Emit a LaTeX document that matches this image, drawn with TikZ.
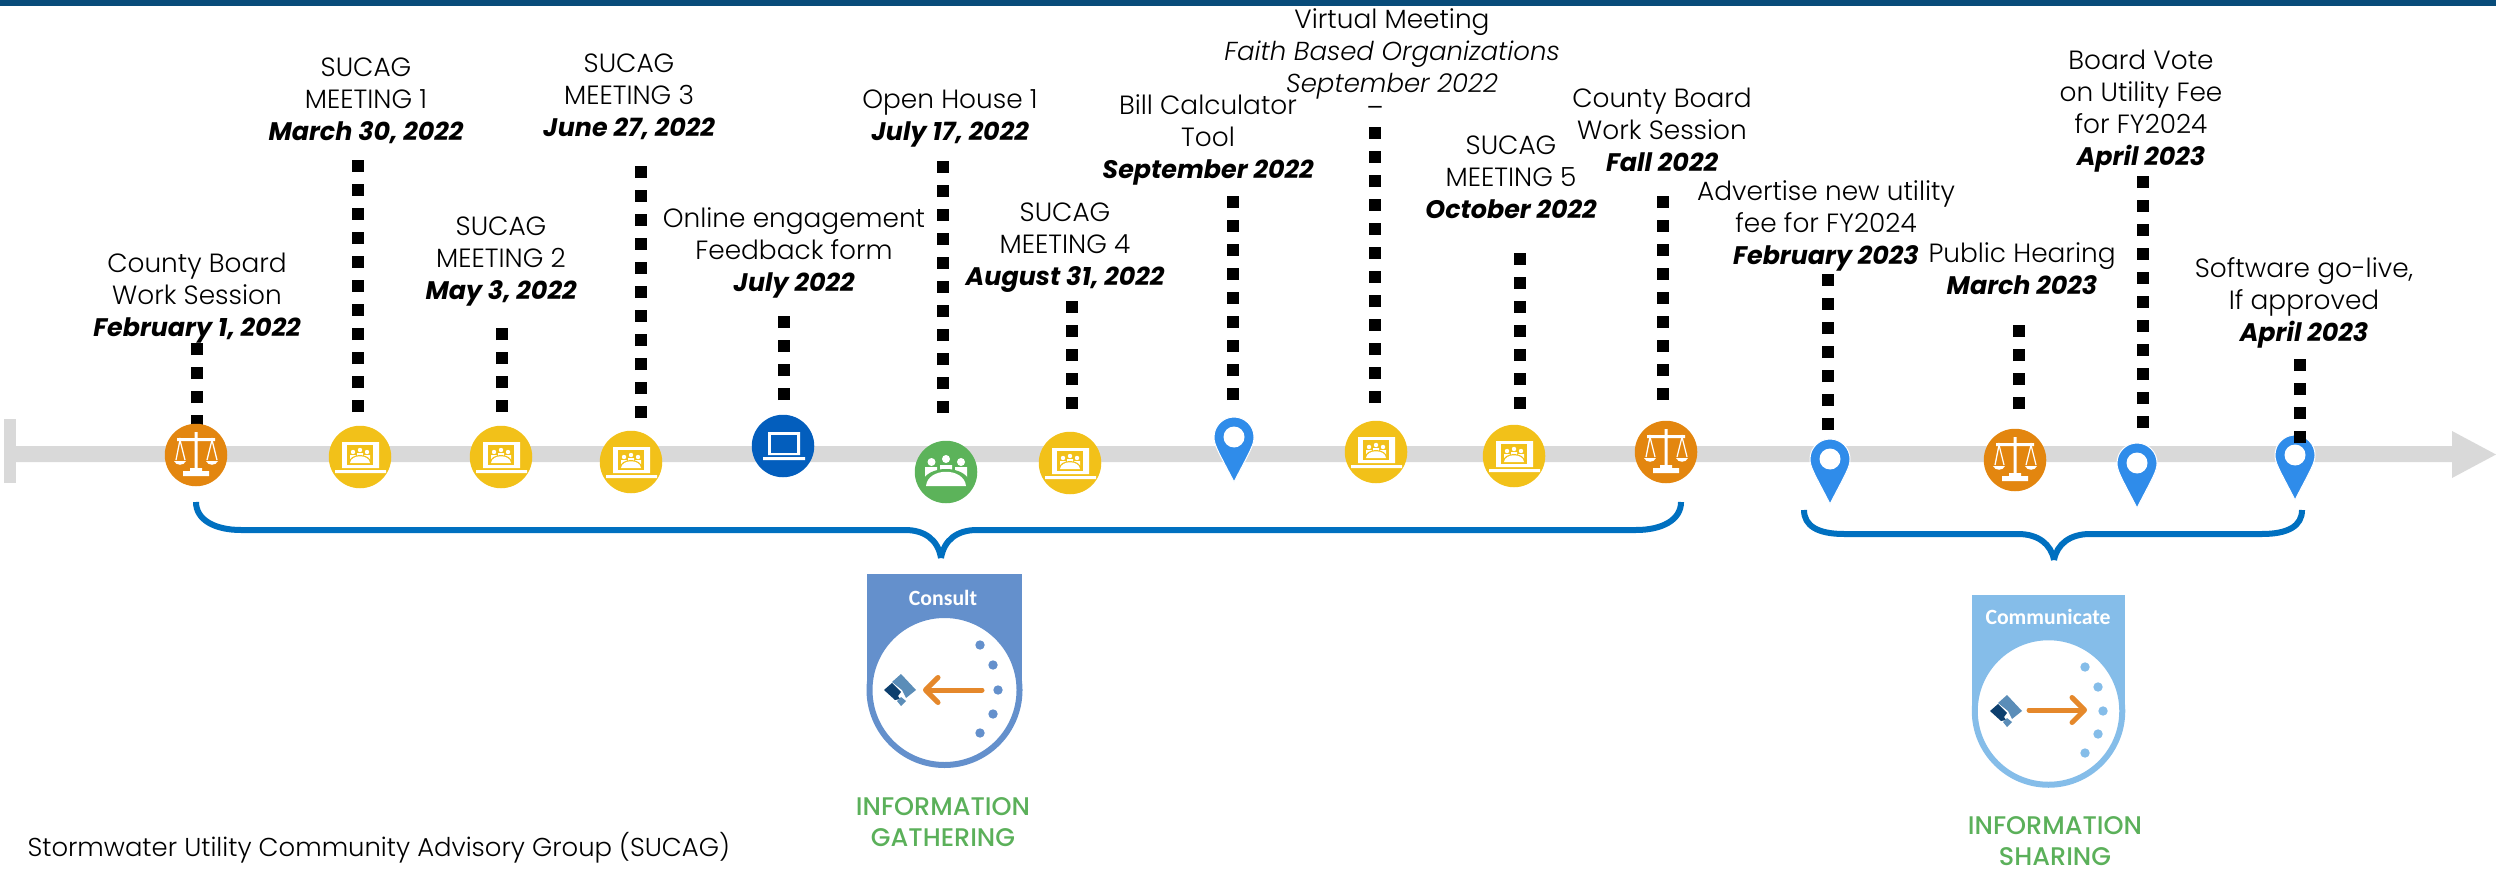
\documentclass[tikz,border=0pt]{standalone}
\usepackage{fontspec}
\setmainfont{Poppins}[UprightFont=* Light,ItalicFont=* Light Italic,BoldItalicFont=* Bold Italic,BoldFont=* Bold]
\newfontfamily\badgefont{Carlito}
\newfontfamily\phasefont{Poppins}[UprightFont=* Medium]
\usetikzlibrary{arrows.meta}
\definecolor{barcol}{HTML}{D9D9D9}
\definecolor{navycol}{HTML}{084C7A}
\definecolor{boardcol}{HTML}{E3860F}
\definecolor{meetcol}{HTML}{F2C119}
\definecolor{onlinecol}{HTML}{035EBD}
\definecolor{housecol}{HTML}{5CB35A}
\definecolor{pincol}{HTML}{2F8CEA}
\definecolor{bracecol}{HTML}{0070C0}
\definecolor{consultcol}{HTML}{6490CC}
\definecolor{sharecol}{HTML}{85BDE9}
\definecolor{phasecol}{HTML}{5BB05A}
\definecolor{arrowcol}{HTML}{E5882B}
\definecolor{logolight}{HTML}{5B8DB8}
\definecolor{logodark}{HTML}{0D3F6E}
\tikzstyle{event} = [align=center, inner sep=0pt, yshift=-1.2pt, font=\fontsize{10.55}{12.8}\selectfont]
\tikzstyle{iconball} = [circle, inner sep=0pt, outer sep=0pt, minimum size=25pt]
\tikzstyle{stem} = [draw, line width=4.8pt, dash pattern=on 4.8pt off 4.8pt]
\tikzstyle{brace} = [draw=bracecol, line width=2.4pt]
\tikzstyle{disc} = [circle, fill=white, line width=2.4pt, inner sep=0pt, outer sep=0pt, minimum size=60pt]
\tikzstyle{badgetitle} = [inner sep=0pt, text=white, font=\badgefont\bfseries\fontsize{8.7}{10}\selectfont]
\tikzstyle{phase} = [align=center, inner sep=0pt, text=phasecol, font=\phasefont\fontsize{10.2}{12.4}\selectfont]
\tikzstyle{arrowline} = [draw=arrowcol, line width=2pt, line cap=round, -{Straight Barb[round,length=5pt,width=10pt]}]
\newcommand{\evdate}[1]{{\fontsize{10.15}{12.8}\selectfont\bfseries\itshape #1}}
\newcommand{\evital}[1]{{\fontsize{10.4}{12.8}\selectfont\itshape #1}}
\tikzset{
  scalesicon/.pic={
    \fill [white] (-1.5,-23) rectangle (1.5,15) (-19,-17) rectangle (19,-14)
      (-6,13) rectangle (6,16) (-13,16) rectangle (13,21);
    \draw [white, line width=.5pt] (-20,5) -- (-16,-15) -- (-11,5) (11,5) -- (16,-15) -- (21,5);
    \fill [white] (-22,6) .. controls (-20,11) and (-12,11) .. (-10,6) -- cycle
      (10,6) .. controls (12,11) and (20,11) .. (22,6) -- cycle;
  },
  laptopicon/.pic={
    \fill [white] (-18,-15) rectangle (19,11) (-25,13) rectangle (26,16);
    \fill [meetcol] (-13,-12) rectangle (13,8);
    \fill [white] (-7,-5) circle (2.2) (0,-7) circle (2.2) (7,-5) circle (2.2)
      (-10,-2) rectangle (-4,3) (-3,-4) rectangle (3,-1) (4,-2) rectangle (10,3);
    \fill [meetcol] (-12,7) .. controls (-11,-5) and (11,-5) .. (12,7) -- cycle;
    \fill [white] (-10,6) .. controls (-9,-3) and (9,-3) .. (10,6) -- cycle;
  },
  onlineicon/.pic={
    \fill [white] (-15,-14) rectangle (17,9) (-20,11) rectangle (22,14);
    \fill [onlinecol] (-12,-11) rectangle (14,7);
  },
  peopleicon/.pic={
    \fill [white] (-14.5,-10) circle (4) (0,-13) circle (4) (15,-10) circle (4)
      (-21,-5) rectangle (-9,8) (-6,-7) rectangle (6,-2) (9,-5) rectangle (21,8);
    \fill [housecol] (-24,12) .. controls (-22,-8) and (22,-8) .. (24,12) -- cycle;
    \fill [white] (-20,14) .. controls (-18,-5) and (18,-5) .. (20,14) -- cycle;
  },
  pinmark/.pic={
    \fill [pincol, draw=white, line width=.4pt] (-20,20) .. controls (-20,9) and (-11,0) .. (0,0)
      .. controls (11,0) and (20,9) .. (20,20) .. controls (20,28) and (16,34) .. (0,65)
      .. controls (-16,34) and (-20,28) .. (-20,20) -- cycle;
    \fill [white] (0,20) circle (10.5);
  },
  logomark/.pic={
    \fill [logolight] (1,-16) -- (16,0) -- (6,8) -- (2,0) -- (-8,-8) -- cycle;
    \fill [logodark] (-16,0) -- (-8,-7) -- (1,2) -- (-2,6) -- (0,9) -- (-5,10) -- cycle;
    \fill [logolight] (-3,11) -- (1,7) -- (6,11) -- (1,16) -- cycle;
  },
}
\begin{document}
\begin{tikzpicture}[x=.4pt, y=-.4pt]
\useasboundingbox (0,0) rectangle (2496,872);
\fill [navycol] (0,0) rectangle (2496,6);

% timeline
\fill [barcol] (4,419) rectangle (16,483);
\fill [barcol] (16,446) -- (2452,446) -- (2452,431) -- (2496,454.5) -- (2452,478) -- (2452,462) -- (16,462) -- cycle;

% labels
\node [event] (board1) at (197,295) {County Board\\Work Session\\\evdate{February 1, 2022}};
\node [event] (meet1) at (366,98) {SUCAG\\MEETING 1\\\evdate{March 30, 2022}};
\node [event] (meet2) at (501,259) {SUCAG\\MEETING 2\\\evdate{May 3, 2022}};
\node [event] (meet3) at (629,94) {SUCAG\\MEETING 3\\\evdate{June 27, 2022}};
\node [event] (online) at (794,250) {Online engagement\\Feedback form\\\evdate{July 2022}};
\node [event] (house) at (950,115) {Open House 1\\\evdate{July 17, 2022}};
\node [event] (meet4) at (1065,245) {SUCAG\\MEETING 4\\\evdate{August 31, 2022}};
\node [event] (bill) at (1208,137) {Bill Calculator\\Tool\\\evdate{September 2022}};
\node [event] (virtual) at (1392,51) {Virtual Meeting\\\evital{Faith Based Organizations}\\\evital{September 2022}};
\node [event] (rule) at (1375,104) {\_};
\node [event] (meet5) at (1511,174) {SUCAG\\MEETING 5\\\evdate{October 2022}};
\node [event] (board2) at (1662,127) {County Board\\Work Session\\\evdate{Fall 2022}};
\node [event] (advert) at (1826,223) {Advertise new utility\\fee for FY2024\\\evdate{February 2023}};
\node [event] (hearing) at (2022,266) {Public Hearing\\\evdate{March 2023}};
\node [event] (vote) at (2141,108) {Board Vote\\on Utility Fee\\for FY2024\\\evdate{April 2023}};
\node [event] (golive) at (2304,300) {Software go-live,\\If approved\\\evdate{April 2023}};

% stems
\coordinate (t1) at (197,343); \coordinate (b1) at (197,427);
\coordinate (t2) at (358,160); \coordinate (b2) at (358,412);
\coordinate (t3) at (502,328); \coordinate (b3) at (502,412);
\coordinate (t4) at (641,166); \coordinate (b4) at (641,418);
\coordinate (t5) at (784,316); \coordinate (b5) at (784,400);
\coordinate (t6) at (943,161); \coordinate (b6) at (943,413);
\coordinate (t7) at (1072,301); \coordinate (b7) at (1072,409);
\coordinate (t8) at (1233,196); \coordinate (b8) at (1233,400);
\coordinate (t9) at (1375,127); \coordinate (b9) at (1375,403);
\coordinate (t10) at (1520,253); \coordinate (b10) at (1520,409);
\coordinate (t11) at (1663,196); \coordinate (b11) at (1663,400);
\coordinate (t12) at (1828,274); \coordinate (b12) at (1828,430);
\coordinate (t13) at (2019,325); \coordinate (b13) at (2019,409);
\coordinate (t14) at (2143,176); \coordinate (b14) at (2143,428);
\coordinate (t15) at (2300,359); \coordinate (b15) at (2300,443);
\foreach \k in {1,...,14} \path [stem] (b\k) -- (t\k);

% icons
\node [iconball, fill=boardcol] (iboard1) at (196,455) {};
\pic at (iboard1) {scalesicon};
\node [iconball, fill=meetcol] (imeet1) at (360,457) {};
\pic at (imeet1) {laptopicon};
\node [iconball, fill=meetcol] (imeet2) at (501,457) {};
\pic at (imeet2) {laptopicon};
\node [iconball, fill=meetcol] (imeet3) at (631,462) {};
\pic at (imeet3) {laptopicon};
\node [iconball, fill=onlinecol] (ionline) at (783,446) {};
\pic at (ionline) {onlineicon};
\node [iconball, fill=housecol] (ihouse) at (946,472) {};
\pic at (ihouse) {peopleicon};
\node [iconball, fill=meetcol] (imeet4) at (1070,463) {};
\pic at (imeet4) {laptopicon};
\node [iconball, fill=meetcol] (ivirtual) at (1376,452) {};
\pic at (ivirtual) {laptopicon};
\node [iconball, fill=meetcol] (imeet5) at (1514,456) {};
\pic at (imeet5) {laptopicon};
\node [iconball, fill=boardcol] (iboard2) at (1666,452) {};
\pic at (iboard2) {scalesicon};
\node [iconball, fill=boardcol] (ihearing) at (2015,460) {};
\pic at (ihearing) {scalesicon};
\coordinate (pin1) at (1234,417); \pic at (pin1) {pinmark};
\coordinate (pin2) at (1830,439); \pic at (pin2) {pinmark};
\coordinate (pin3) at (2137,443); \pic at (pin3) {pinmark};
\coordinate (pin4) at (2295,435); \pic at (pin4) {pinmark};
\path [stem] (b15) -- (t15);

% braces
\coordinate (gl) at (196,502); \coordinate (gr) at (1681,502); \coordinate (gt) at (941,558);
\path [brace] (gl) .. controls +(0,18) and +(-26,0) .. ++(45,28) -- ++(664,0) .. controls +(20,0) and +(-3,-18) .. (gt);
\path [brace] (gt) .. controls +(3,-18) and +(-20,0) .. ++(36,-28) -- ++(659,0) .. controls +(26,0) and +(0,18) .. (gr);
\coordinate (sl) at (1804,510); \coordinate (sr) at (2302,510); \coordinate (st) at (2054,560);
\path [brace] (sl) .. controls +(0,16) and +(-26,0) .. ++(40,24) -- ++(174,0) .. controls +(20,0) and +(-3,-16) .. (st);
\path [brace] (st) .. controls +(3,-16) and +(-20,0) .. ++(36,-26) -- ++(172,0) .. controls +(26,0) and +(0,16) .. (sr);

% consult badge
\fill [consultcol] (867,574) rectangle (1022,690);
\node [disc, draw=consultcol] (cdisc) at (944.5,690) {};
\node [badgetitle] (ctitle) at (943,598) {Consult};
\fill [consultcol] (980,645) circle (4.7) (993,665) circle (4.7) (998,690) circle (4.7) (993,714) circle (4.7) (980,733) circle (4.7);
\pic at (900,690) {logomark};
\coordinate (cfrom) at (982,690); \coordinate (cto) at (923,690);
\path [arrowline] (cfrom) -- (cto);
\node [phase] (gather) at (943,822) {INFORMATION\\GATHERING};

% communicate badge
\fill [sharecol] (1972,595) rectangle (2125,711);
\node [disc, draw=sharecol, minimum size=59pt] (sdisc) at (2048.5,711) {};
\node [badgetitle] (stitle) at (2048,617) {Communicate};
\fill [sharecol] (2085,667) circle (4.7) (2098,687) circle (4.7) (2103,711) circle (4.7) (2098,734) circle (4.7) (2085,753) circle (4.7);
\pic at (2006,711) {logomark};
\coordinate (sfrom) at (2029,710); \coordinate (sto) at (2087,710);
\path [arrowline] (sfrom) -- (sto);
\node [phase] (share) at (2055,841) {INFORMATION\\SHARING};

\node [event, anchor=west, font=\fontsize{10.35}{12.8}\selectfont] (note) at (27,845) {Stormwater Utility Community Advisory Group (SUCAG)};
\end{tikzpicture}
\end{document}
